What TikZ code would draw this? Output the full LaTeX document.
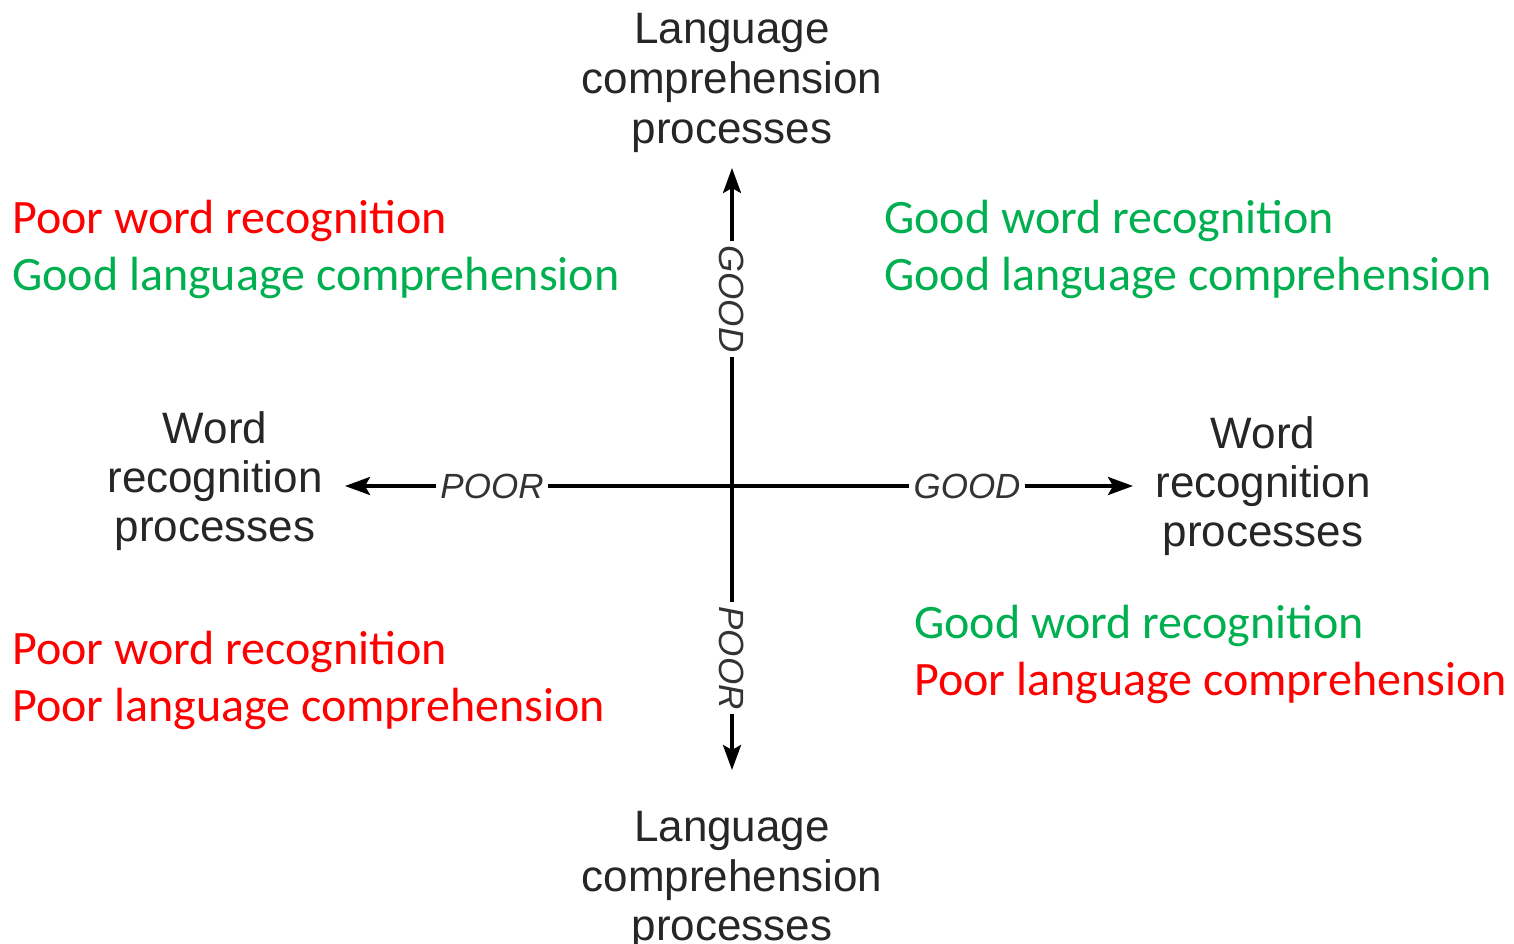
\documentclass[tikz,border=0pt]{standalone}
\usepackage{fontspec}
\setmainfont{Liberation Sans}
\newfontfamily\axfont{Liberation Sans}
\newfontfamily\cfont{Carlito}
\usetikzlibrary{arrows.meta}
\definecolor{qred}{HTML}{FF0000}
\definecolor{qgreen}{HTML}{00B050}
\tikzset{
  axlab/.style={font=\axfont\fontsize{44}{50}\selectfont, anchor=base, inner sep=0pt, text=black!85},
  tick/.style={font=\axfont\itshape\fontsize{35}{40}\selectfont, inner xsep=4pt, inner ysep=2pt, text=black!80},
  quad/.style={font=\cfont\fontsize{48}{57}\selectfont, anchor=base west, inner sep=0pt},
  axis/.style={line width=3.5pt, black},
  tip/.style={axis, -{Stealth[length=25pt,width=18pt,inset=5pt]}}
}
\begin{document}
\begin{tikzpicture}[x=1pt,y=-1pt]
\useasboundingbox[fill=white] (0,0) rectangle (1514,943);
% axis titles
\node[axlab] (t1) at (732,43) {Language};
\node[axlab] (t2) at (732,93) {comprehension};
\node[axlab] (t3) at (732,143) {processes};
\node[axlab] (b1) at (732,841) {Language};
\node[axlab] (b2) at (732,891) {comprehension};
\node[axlab] (b3) at (732,940) {processes};
\node[axlab] (l1) at (215,443) {Word};
\node[axlab] (l2) at (215,492) {recognition};
\node[axlab] (l3) at (215,541) {processes};
\node[axlab] (r1) at (1263,448) {Word};
\node[axlab] (r2) at (1263,497) {recognition};
\node[axlab] (r3) at (1263,546) {processes};
% tick labels
\node[tick] (poorH) at (492,486) {POOR};
\node[tick] (goodH) at (967,486) {GOOD};
\node[tick, rotate=-90] (goodV) at (732,299) {GOOD};
\node[tick, rotate=-90] (poorV) at (732,658) {POOR};
\coordinate (ltip) at (345,486);
\coordinate (rtip) at (1133,486);
\coordinate (ttip) at (732,168);
\coordinate (btip) at (732,770);
% axes
\draw[tip] (poorH.west) -- (ltip);
\draw[axis] (poorH.east) -- (goodH.west);
\draw[tip] (goodH.east) -- (rtip);
\draw[tip] (goodV.west) -- (ttip);
\draw[axis] (goodV.east) -- (poorV.west);
\draw[tip] (poorV.east) -- (btip);
% quadrant texts
\node[quad, text=qred] (q1a) at (12,233) {Poor word recognition};
\node[quad, text=qgreen] (q1b) at (12,290) {Good language comprehension};
\node[quad, text=qgreen] (q2a) at (884,233) {Good word recognition};
\node[quad, text=qgreen] (q2b) at (884,290) {Good language comprehension};
\node[quad, text=qred] (q3a) at (12,664) {Poor word recognition};
\node[quad, text=qred] (q3b) at (12,721) {Poor language comprehension};
\node[quad, text=qgreen] (q4a) at (914,638) {Good word recognition};
\node[quad, text=qred] (q4b) at (914,695) {Poor language comprehension};
\end{tikzpicture}
\end{document}
